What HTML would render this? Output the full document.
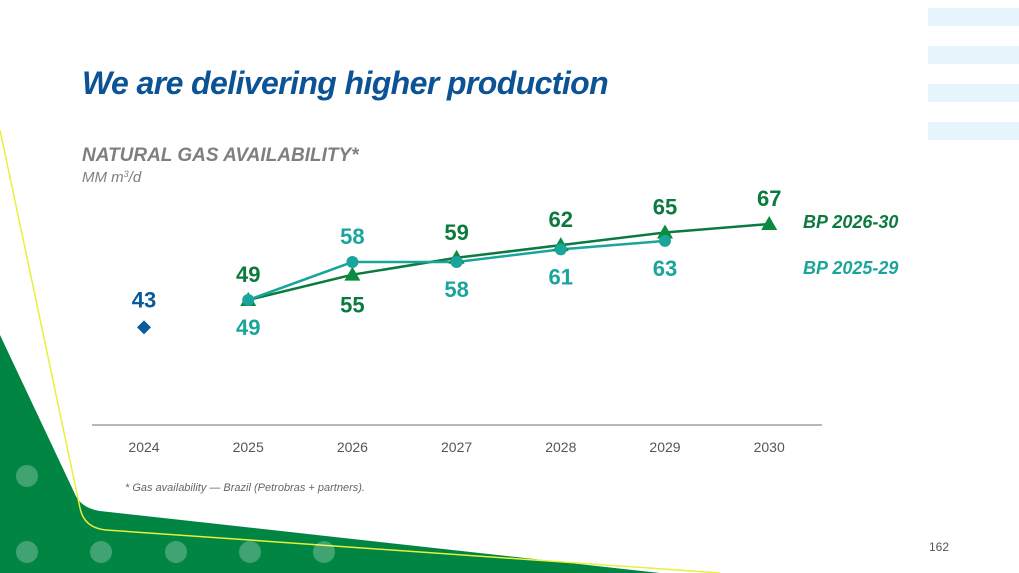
<!DOCTYPE html>
<html><head><meta charset="utf-8"><style>
body{margin:0;width:1019px;height:573px;overflow:hidden;background:#fff;font-family:"Liberation Sans",sans-serif}
svg{position:absolute;left:0;top:0}
</style></head><body>
<svg width="1019" height="573" viewBox="0 0 1019 573">
  <g fill="#e6f5fc">
    <rect x="928" y="8" width="91" height="18"/><rect x="928" y="46" width="91" height="18"/>
    <rect x="928" y="84" width="91" height="18"/><rect x="928" y="122" width="91" height="18"/>
  </g>
  <path d="M0,335 L74,492 Q80,508 100,511 L660,573 L0,573 Z" fill="#008542"/>
  <path d="M0,130 L80,508 Q84,528 106,530 L720,573" fill="none" stroke="#e8f03a" stroke-width="1.5"/>
  <g fill="#ffffff" opacity="0.25">
    <circle cx="27" cy="476" r="11"/><circle cx="27" cy="552" r="11"/><circle cx="101" cy="552" r="11"/>
    <circle cx="176" cy="552" r="11"/><circle cx="250" cy="552" r="11"/><circle cx="324" cy="552" r="11"/>
  </g>
  <text x="82" y="94" font-size="32" font-weight="bold" font-style="italic" fill="#0b5394" letter-spacing="-0.6">We are delivering higher production</text>
  <text x="82" y="161" font-size="19" font-weight="bold" font-style="italic" fill="#7f7f7f">NATURAL GAS AVAILABILITY*</text>
  <text x="82" y="182" font-size="15" font-style="italic" fill="#7f7f7f">MM m<tspan font-size="9" dy="-5">3</tspan><tspan dy="5">/d</tspan></text>
  <line x1="92" y1="425" x2="822" y2="425" stroke="#8c8c8c" stroke-width="1.3"/>
  <g id="chart"></g>
  <text x="803" y="228" font-size="18" font-weight="bold" font-style="italic" fill="#0b7a3e">BP 2026-30</text>
  <text x="803" y="274" font-size="18" font-weight="bold" font-style="italic" fill="#1aa59a">BP 2025-29</text>
  <text x="125" y="491" font-size="11" font-style="italic" fill="#666">* Gas availability — Brazil (Petrobras + partners).</text>
  <text x="929" y="551" font-size="12" fill="#555">162</text>
</svg>
<script>
const years=['2024','2025','2026','2027','2028','2029','2030'];
const actual=[43];
const bp2630=[null,49,55,59,62,65,67];
const bp2529=[null,49,58,58,61,63,null];
const greenAbove=[true,false,true,true,true,true];
const NS='http://www.w3.org/2000/svg';
const g=document.getElementById('chart');
function x(i){return 144+i*104.2;}
function y(v){return 300-(v-49)*4.22;}
function mk(t,a){const e=document.createElementNS(NS,t);for(const k in a)e.setAttribute(k,a[k]);g.appendChild(e);return e;}
years.forEach((yr,i)=>{const t=mk('text',{x:x(i),y:452,'font-size':14,fill:'#555','text-anchor':'middle'});t.textContent=yr;

});
function line(arr,color,name){let p=[];arr.forEach((v,i)=>{if(v!=null)p.push(x(i)+','+y(v));});
const l=mk('polyline',{points:p.join(' '),fill:'none',stroke:color,'stroke-width':2.5});

}
line(bp2630,'#0b7a3e','line-bp-2026-30');
line(bp2529,'#1aa59a','line-bp-2025-29');
bp2630.forEach((v,i)=>{if(v==null)return;const cx=x(i),cy=y(v);
const m=mk('polygon',{points:`${cx},${cy-8} ${cx-8},${cy+6} ${cx+8},${cy+6}`,fill:'#0b8a42'});


const up=greenAbove[i-1];
const t=mk('text',{x:cx,y:up?cy-18:cy+38,'font-size':22,'font-weight':'bold',fill:'#0b7a3e','text-anchor':'middle'});t.textContent=v;

});
bp2529.forEach((v,i)=>{if(v==null)return;const cx=x(i),cy=y(v);
const m=mk('circle',{cx:cx,cy:cy,r:6,fill:'#1aa59a'});


const up=!greenAbove[i-1];
const t=mk('text',{x:cx,y:up?cy-18:cy+35,'font-size':22,'font-weight':'bold',fill:'#1aa59a','text-anchor':'middle'});t.textContent=v;

});
actual.forEach((v,i)=>{const cx=x(i),cy=y(v)+2;
const d=mk('polygon',{points:`${cx},${cy-7} ${cx+7},${cy} ${cx},${cy+7} ${cx-7},${cy}`,fill:'#0a5a9c'});


const t=mk('text',{x:cx,y:cy-20,'font-size':22,'font-weight':'bold',fill:'#0a5a9c','text-anchor':'middle'});t.textContent=v;

});
</script>
</body></html>
